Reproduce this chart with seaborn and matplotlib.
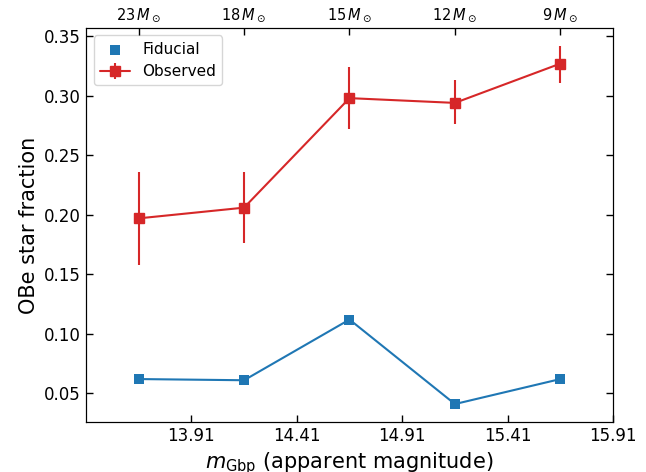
import numpy as np
import matplotlib
matplotlib.use("Agg")
import matplotlib.pyplot as plt
import seaborn as sns

# magnitude bin centres and the matching masses on the top axis
mag = [13.66, 14.16, 14.66, 15.16, 15.66]
mass_labels = [r"$23\,M_\odot$", r"$18\,M_\odot$", r"$15\,M_\odot$", r"$12\,M_\odot$", r"$9\,M_\odot$"]
xticks = [13.91, 14.41, 14.91, 15.41, 15.91]

# OBe fractions
fiducial = [0.062, 0.061, 0.112, 0.041, 0.062]
observed = [0.197, 0.206, 0.298, 0.294, 0.327]
obs_lo = [0.158, 0.176, 0.272, 0.276, 0.311]
obs_hi = [0.236, 0.236, 0.324, 0.313, 0.342]

sns.set_style("ticks", {"xtick.direction": "in", "ytick.direction": "in",
                        "axes.edgecolor": "black", "text.color": "black",
                        "xtick.color": "black", "ytick.color": "black",
                        "axes.labelcolor": "black", "axes.linewidth": 1.0})
plt.rcParams["font.family"] = ["DejaVu Sans"]

fig, ax = plt.subplots(figsize=(6.46, 4.72), dpi=100)
fig.subplots_adjust(left=0.133, right=0.949, top=0.941, bottom=0.106)

# fiducial: line without label, squares with label
sns.lineplot(x=mag, y=fiducial, color="tab:blue", lw=1.5, ax=ax, legend=False)
sns.scatterplot(x=mag, y=fiducial, color="tab:blue", marker="s", s=56, linewidth=0,
                label="Fiducial", ax=ax, zorder=3)

# observed with error bars
yerr = [np.array(observed) - np.array(obs_lo), np.array(obs_hi) - np.array(observed)]
ax.errorbar(mag, observed, yerr=yerr, color="tab:red", marker="s", ms=7.5, lw=1.5,
            elinewidth=1.5, capsize=0, label="Observed")

ax.set_xlim(13.41, 15.91)
ax.set_xticks(xticks)
ax.set_xticklabels([f"{t:.2f}" for t in xticks])
ax.tick_params(axis="both", labelsize=12, length=5, width=1.0)
ax.tick_params(axis="y", right=True)
ax.set_xlabel(r"$m_{\rm Gbp}$ (apparent magnitude)", fontsize=15)
ax.set_ylabel("OBe star fraction", fontsize=15)
ax.legend(loc="upper left", fontsize=11)

# top axis with masses
top = ax.twiny()
top.set_xlim(ax.get_xlim())
top.set_xticks(mag)
top.set_xticklabels(mass_labels)
top.tick_params(axis="x", direction="in", labelsize=10.5, length=5, width=1.0, pad=3)

plt.savefig("out.png", dpi=100)
